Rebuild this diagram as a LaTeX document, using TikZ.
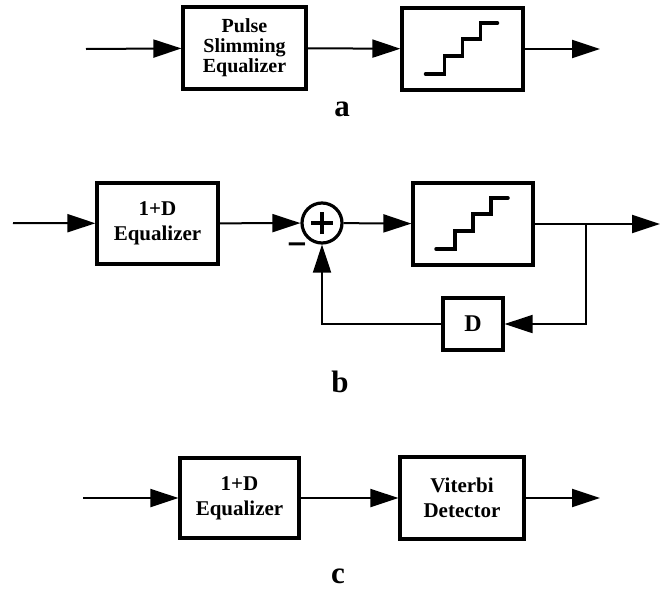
\documentclass[tikz,border=0pt]{standalone}
\usepackage{fontspec}
\setmainfont{Liberation Serif}
\newfontfamily\symfont{DejaVu Sans}
\usetikzlibrary{arrows.meta,positioning}

% staircase symbol of a slicer, drawn inside a block
\newcommand{\stairs}[1]{%
  \draw[stair] ([shift={(-37,25)}]#1.center) -- ++(19,0) -- ++(0,-18) -- ++(18,0)
    -- ++(0,-17) -- ++(18,0) -- ++(0,-16) -- ++(17,0);}

\begin{document}
\begin{tikzpicture}[x=1pt, y=-1pt,
    conn/.style={line width=2pt, -{Triangle[length=28pt,width=18pt]}},
    block/.style={draw, line width=3.2pt, rectangle, align=center, inner sep=0pt,
      font=\bfseries\fontsize{21}{25}\selectfont},
    stair/.style={line width=3.5pt, line cap=round},
    panel/.style={font=\bfseries\fontsize{31}{31}\selectfont}]
    \useasboundingbox (0,0) rectangle (661,592);

    % (a) pulse slimming equalizer and slicer
    \coordinate (ina) at (86,49);
    \node[block, minimum width=123pt, minimum height=82pt, font=\bfseries\fontsize{20}{20}\selectfont] (pse) at (244.5,48) {Pulse\\Slimming\\Equalizer};
    \node[block, minimum width=121pt, minimum height=82pt] (qa) at (462.5,49) {};
    \coordinate (outa) at (600,49);
    \stairs{qa}
    \draw[conn] (ina) -- (pse);
    \draw[conn] (pse) -- (qa);
    \draw[conn] (qa) -- (outa);
    \node[panel] (la) at (342,109) {a};

    % (b) 1+D equalizer with decision feedback
    \coordinate (inb) at (13,223);
    \node[block, minimum width=121pt, minimum height=81pt] (eqb) at (157.5,223.5) {1+D\\Equalizer};
    \node[draw, circle, line width=3.2pt, minimum size=40pt, inner sep=0pt] (sum) at (322,223) {};
    \draw[line width=3.5pt] ([xshift=-11pt]sum.center) -- ([xshift=11pt]sum.center);
    \draw[line width=3.5pt] ([yshift=-11pt]sum.center) -- ([yshift=11pt]sum.center);
    \node[font=\symfont\bfseries\fontsize{26}{26}\selectfont, inner sep=0pt] (minus) at (297,248) {−};
    \node[block, minimum width=120pt, minimum height=82pt] (qb) at (473,224) {};
    \stairs{qb}
    \coordinate (br) at (586,224);
    \coordinate (outb) at (660,224);
    \node[block, minimum width=60pt, minimum height=52pt, font=\bfseries\fontsize{24}{24}\selectfont] (dly) at (473,324) {D};
    \draw[conn] (inb) -- (eqb);
    \draw[conn] (eqb) -- (sum);
    \draw[conn] (sum) -- (qb);
    \draw[conn] (qb) -- (outb);
    \draw[conn] (br) |- (dly);
    \draw[conn] (dly) -| (sum);
    \node[panel] (lb) at (340,382) {b};

    % (c) 1+D equalizer and Viterbi detector
    \coordinate (inc) at (83,498);
    \node[block, minimum width=119pt, minimum height=80pt] (eqc) at (239.5,498) {1+D\\Equalizer};
    \node[block, minimum width=124pt, minimum height=82pt] (vit) at (462,498) {Viterbi\\Detector};
    \coordinate (outc) at (600,498);
    \draw[conn] (inc) -- (eqc);
    \draw[conn] (eqc) -- (vit);
    \draw[conn] (vit) -- (outc);
    \node[panel] (lc) at (338,576) {c};
\end{tikzpicture}
\end{document}
